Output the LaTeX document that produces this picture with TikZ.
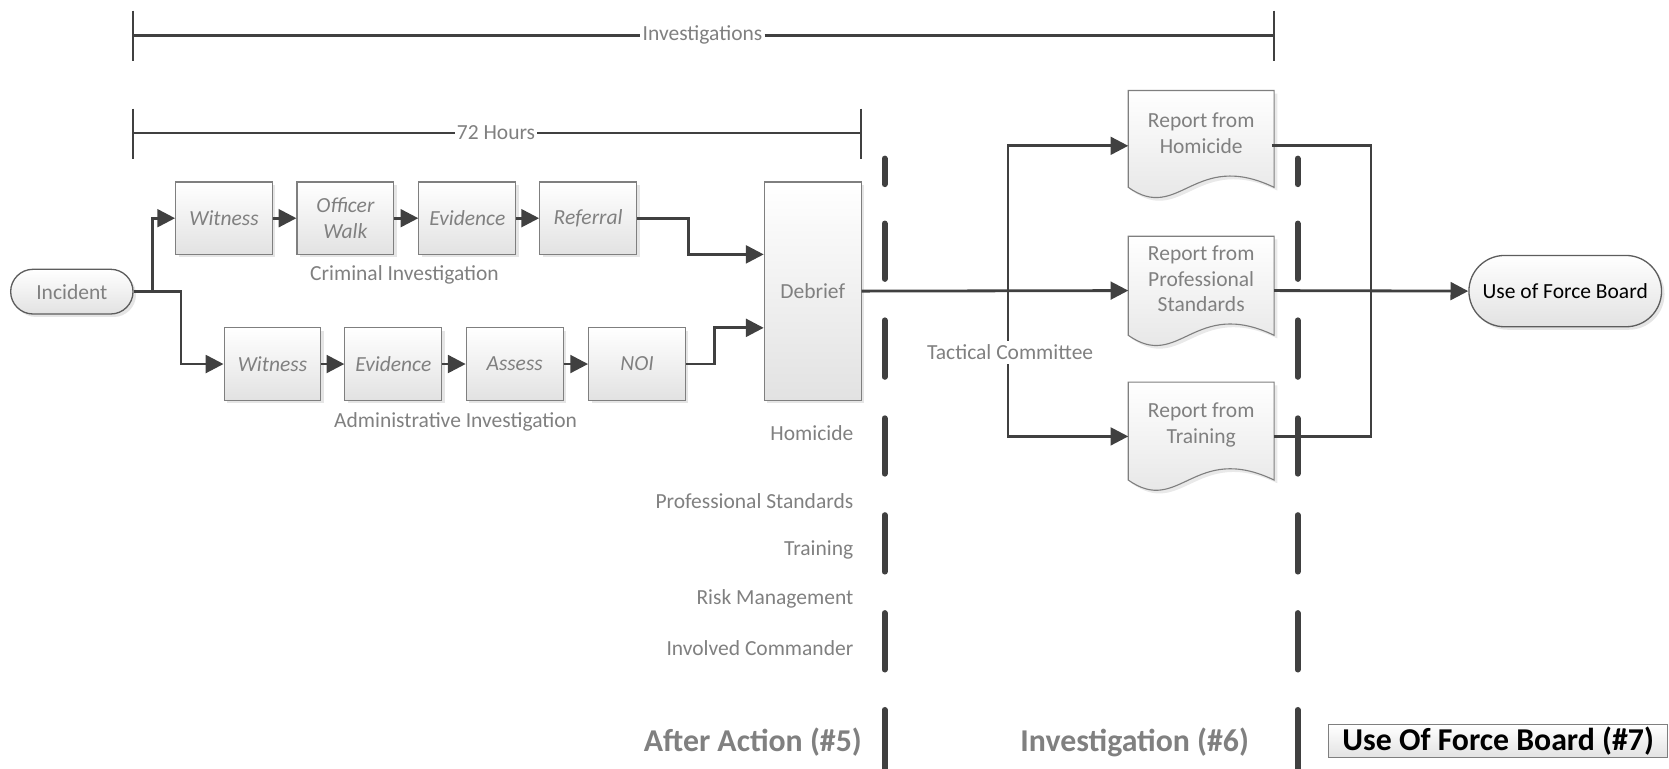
\documentclass[tikz,border=0pt]{standalone}
\usepackage{fontspec}
\setmainfont{Carlito}
\usetikzlibrary{arrows.meta,shadows,calc}
\definecolor{ln}{HTML}{404040}
\definecolor{tx}{HTML}{808080}
\definecolor{bd}{HTML}{7F7F7F}
\definecolor{gl}{HTML}{E2E2E2}
\begin{document}
\begin{tikzpicture}[x=0.02cm,y=-0.02cm,
  font=\fontsize{11.5}{13.7}\selectfont,
  shad/.style={drop shadow={shadow xshift=1.6pt,shadow yshift=-1.6pt,fill=gray!50,opacity=0.4}},
  box/.style={draw=bd,line width=0.6pt,top color=white,bottom color=gl,
    minimum width=1.82cm,minimum height=1.36cm,inner sep=1pt,align=center,
    text=tx,font=\fontsize{11.5}{13.7}\selectfont\itshape,shad},
  pill/.style={draw=ln!85,line width=0.7pt,top color=white,bottom color=gl,
    inner sep=1pt,align=center,shad},
  lab/.style={text=tx,inner sep=0pt,align=center},
  doctext/.style={text=tx,inner sep=0pt,align=center},
  conn/.style={draw=ln,line width=1.5pt},
  arr/.style={conn,-{Triangle[length=9.5pt,width=9.5pt]}},
  barln/.style={draw=ln,line width=1.5pt},
  tickln/.style={draw=ln,line width=1.1pt},
  dashln/.style={draw=ln,line width=3.2pt,line cap=round},
  big/.style={text=tx,inner sep=0pt,font=\fontsize{17}{20}\selectfont\bfseries},
  docshape/.style={draw=bd,line width=0.6pt,top color=white,bottom color=gl}
]
\useasboundingbox (0,0) rectangle (1568,722);

% ---- top bars
\node[lab,fill=white,inner sep=1pt] (inv) at (660,33) {Investigations};
\coordinate (invL) at (125,33);
\coordinate (invR) at (1197,33);
\draw[barln] (invL) -- (inv.west);
\draw[barln] (inv.east) -- (invR);
\draw[tickln] ($(invL)+(0,-23)$) -- ($(invL)+(0,24)$);
\draw[tickln] ($(invR)+(0,-23)$) -- ($(invR)+(0,24)$);

\node[lab,fill=white,inner sep=1pt] (hrs) at (466,125) {72 Hours};
\coordinate (hrsL) at (125,125);
\coordinate (hrsR) at (809,125);
\draw[barln] (hrsL) -- (hrs.west);
\draw[barln] (hrs.east) -- (hrsR);
\draw[tickln] ($(hrsL)+(0,-23)$) -- ($(hrsL)+(0,24)$);
\draw[tickln] ($(hrsR)+(0,-23)$) -- ($(hrsR)+(0,24)$);

% ---- nodes
\node[pill,minimum width=2.3cm,minimum height=0.84cm,rounded corners=0.42cm,text=tx] (inc) at (67.5,274) {Incident};

\node[box] (cw) at (210.5,205) {Witness};
\node[box] (cow) at (324.5,205) {Officer\\Walk};
\node[box] (cev) at (439,205) {Evidence};
\node[box] (cref) at (552.5,205) {Referral};

\node[box] (aw) at (256,342) {Witness};
\node[box] (aev) at (369.5,342) {Evidence};
\node[box] (aas) at (483.5,342) {Assess};
\node[box] (anoi) at (598.5,342) {NOI};

\node[box,minimum height=4.1cm,font=\fontsize{11.5}{13.7}\selectfont] (deb) at (763.5,273.5) {Debrief};

\node[lab] (crim) at (380,258) {Criminal Investigation};
\node[lab] (adm) at (428,396) {Administrative Investigation};

\node[lab,anchor=east] (lhom) at (802,407) {Homicide};
\node[lab,anchor=east] (lps) at (802,471) {Professional Standards};
\node[lab,anchor=east] (ltr) at (802,517) {Training};
\node[lab,anchor=east] (lrm) at (802,563) {Risk Management};
\node[lab,anchor=east] (lic) at (802,609) {Involved Commander};

% ---- documents
\foreach \T/\B in {85/176,222/315,359/451}{
  \fill[gray!50,opacity=0.35] (1063,\T+3) -- (1200,\T+3) -- (1200,\B+3)
     .. controls (1063+0.45*137,\B+3-36) and (1063+0.35*137,\B+3+34) .. (1063,\B+3) -- cycle;
  \path[docshape] (1060,\T) -- (1197,\T) -- (1197,\B)
     .. controls (1060+0.45*137,\B-36) and (1060+0.35*137,\B+34) .. (1060,\B) -- cycle;
}
\node[doctext] (rh) at (1128.5,125) {Report from\\Homicide};
\node[doctext] (rps) at (1128.5,262) {Report from\\Professional\\Standards};
\node[doctext] (rt) at (1128.5,399) {Report from\\Training};

\node[pill,minimum width=3.62cm,minimum height=1.34cm,rounded corners=0.67cm,text=black] (uof) at (1470.5,273.5) {Use of Force Board};

% ---- connectors
\coordinate (split) at (143,274);
\coordinate (split2) at (170,274);
\draw[arr] (inc.east) -- (split) |- (cw.west);
\draw[arr] (split) -- (split2) |- (aw.west);
\draw[arr] (cw) -- (cow);
\draw[arr] (cow) -- (cev);
\draw[arr] (cev) -- (cref);
\draw[arr] (aw) -- (aev);
\draw[arr] (aev) -- (aas);
\draw[arr] (aas) -- (anoi);

\coordinate (j1) at (647,239);
\coordinate (j2) at (671,308);
\draw[arr] (cref.east) -| (j1) -- (deb.west |- j1);
\draw[arr] (anoi.east) -| (j2) -- (deb.west |- j2);

\coordinate (tc) at (947,273);
\coordinate (rhin) at (1060,137);
\coordinate (rpsin) at (1060,273);
\coordinate (rtin) at (1060,410);
\coordinate (rhout) at (1195,137);
\coordinate (rpsout) at (1197,273);
\coordinate (rtout) at (1197,410);
\coordinate (oj) at (1288,273);
\draw[arr] (deb.east) -- (rpsin);
\draw[arr] (tc) |- (rhin);
\draw[arr] (tc) |- (rtin);
\draw[conn] (rhout) -| (oj) |- (rtout);
\draw[arr] (rpsout) -- (uof.west);

\node[lab,fill=white,inner sep=2pt] (tact) at (949,331) {Tactical Committee};

% ---- swimlane dashes
\foreach \x in {831,1219}{
  \foreach \a/\b in {149/173,210/262,301/354,393/445,484/537,576/629,667/740}{
    \draw[dashln] (\x,\a) -- (\x,\b);
  }
}

% ---- bottom phase labels
\node[big,anchor=east] (aa) at (810,697) {After Action (\#5)};
\node[big] (i6) at (1066,697) {Investigation (\#6)};
\node[draw=bd,line width=0.6pt,top color=white,bottom color=gl,minimum width=6.38cm,minimum height=0.62cm,
  inner sep=0pt,text=black,font=\fontsize{17}{20}\selectfont\bfseries] (uf7) at (1407.5,696.5) {Use Of Force Board (\#7)};
\end{tikzpicture}
\end{document}
